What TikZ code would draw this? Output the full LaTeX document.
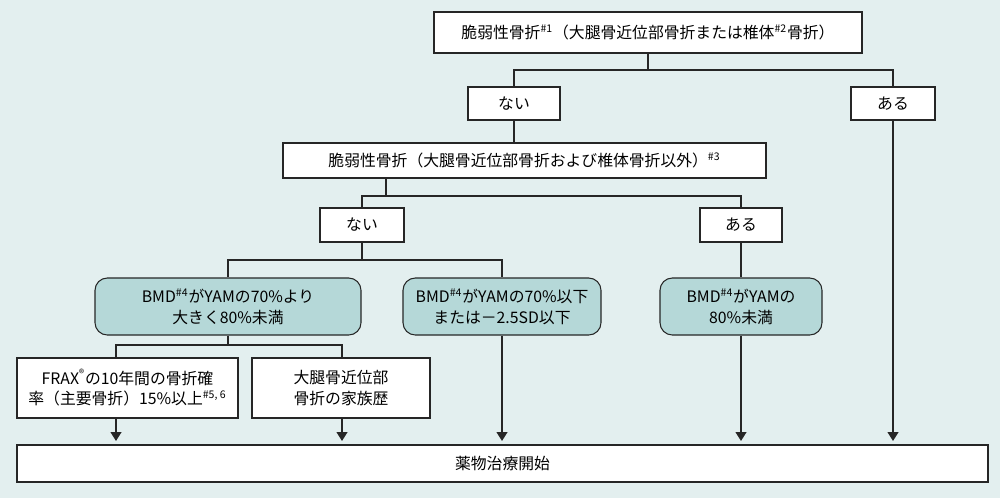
\documentclass[tikz,border=0pt]{standalone}
\usepackage{fontspec}
\setmainfont{Noto Sans CJK JP}
\usetikzlibrary{arrows.meta}
\definecolor{bg}{HTML}{E3EFEF}
\definecolor{teal}{HTML}{B5D8D8}
\begin{document}
\begin{tikzpicture}[x=0.02cm,y=-0.02cm,
  box/.style={draw=black!85,line width=0.6pt,fill=white,minimum height=#1*0.02cm,inner sep=0pt,align=center,font=\fontsize{9}{11.5}\selectfont},
  tbox/.style={box=#1,fill=teal,rounded corners=7pt},
  ln/.style={line width=1pt,black!85},
  ar/.style={ln,-{Triangle[length=5pt,width=6pt]}}]
\fill[bg] (0,0) rectangle (1000,498);
\newcommand{\bx}[7]{\node[#1=#6,minimum width=(#4-#3)*0.02cm] (#2) at ({(#3+#4)/2},{#5+#6/2}) {#7};}
\bx{box}{top}{434}{862}{12}{41}{脆弱性骨折\textsuperscript{\#1}（大腿骨近位部骨折または椎体\textsuperscript{\#2}骨折）}
\bx{box}{n1}{468}{560}{87}{33}{ない}
\bx{box}{a1}{851}{935}{87}{33}{ある}
\bx{box}{q2}{283}{766}{143}{35}{脆弱性骨折（大腿骨近位部骨折および椎体骨折以外）\textsuperscript{\#3}}
\bx{box}{n2}{320}{404}{208}{34}{ない}
\bx{box}{a2}{700}{782}{208}{34}{ある}
\bx{tbox}{t1}{95}{361}{278}{57}{BMD\textsuperscript{\#4}がYAMの70\%より\\大きく80\%未満}
\bx{tbox}{t2}{403}{601}{278}{57}{BMD\textsuperscript{\#4}がYAMの70\%以下\\または－2.5SD以下}
\bx{tbox}{t3}{660}{822}{278}{57}{BMD\textsuperscript{\#4}がYAMの\\80\%未満}
\bx{box}{f}{17}{238}{358}{60}{FRAX\textsuperscript{®}の10年間の骨折確\\率（主要骨折）15\%以上\textsuperscript{\#5, 6}}
\bx{box}{h}{252}{430}{358}{60}{大腿骨近位部\\骨折の家族歴}
\bx{box}{rx}{17}{988}{445}{37}{薬物治療開始}
\draw[ln] (top.south) -- (648,70) -| (n1.north);
\draw[ln] (648,70) -| (a1.north);
\draw[ln] (n1.south) -- (514,143);
\draw[ln] (386,178) -- (386,196) -| (n2.north);
\draw[ln] (386,196) -| (a2.north);
\draw[ln] (n2.south) -- (362,260) -| (t1.north);
\draw[ln] (362,260) -| (t2.north);
\draw[ln] (a2.south) -- (t3.north);
\draw[ln] (t1.south) -- (228,345) -| (116,358);
\draw[ln] (228,345) -| (342,358);
\draw[ar] (116,418) -- (116,441);
\draw[ar] (342,418) -- (342,441);
\draw[ar] (t2.south) -- (502,441);
\draw[ar] (t3.south) -- (741,441);
\draw[ar] (a1.south) -- (893,441);
\end{tikzpicture}
\end{document}
